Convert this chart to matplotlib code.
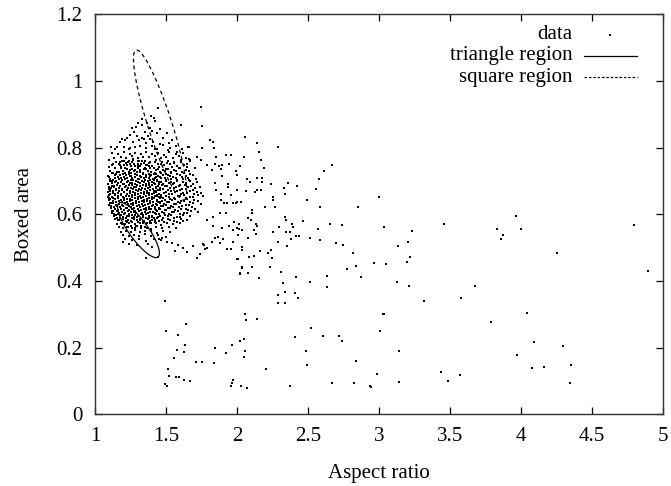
import numpy as np
import matplotlib.pyplot as plt

plt.rcParams['font.family'] = ['Liberation Serif', 'DejaVu Serif']

# dense core of the cloud
core_pts = [
    (1.222, 0.737), (1.243, 0.733), (1.259, 0.736), (1.281, 0.732), (1.302, 0.738), (1.318, 0.734),
    (1.195, 0.729), (1.214, 0.725), (1.236, 0.728), (1.255, 0.724), (1.277, 0.730), (1.296, 0.726),
    (1.318, 0.727), (1.341, 0.723),
    (1.176, 0.717), (1.197, 0.721), (1.215, 0.718), (1.238, 0.722), (1.256, 0.716), (1.279, 0.720),
    (1.297, 0.719), (1.318, 0.715), (1.337, 0.721), (1.360, 0.718),
    (1.162, 0.713), (1.181, 0.709), (1.203, 0.712), (1.222, 0.708), (1.243, 0.714), (1.261, 0.710),
    (1.284, 0.711), (1.301, 0.707), (1.323, 0.713), (1.342, 0.709), (1.361, 0.712), (1.379, 0.710),
    (1.151, 0.701), (1.172, 0.705), (1.190, 0.702), (1.211, 0.706), (1.232, 0.700), (1.250, 0.704),
    (1.271, 0.703), (1.292, 0.699), (1.310, 0.705), (1.331, 0.701), (1.350, 0.704), (1.372, 0.700),
    (1.389, 0.703),
    (1.142, 0.697), (1.163, 0.693), (1.181, 0.696), (1.204, 0.692), (1.222, 0.698), (1.243, 0.694),
    (1.261, 0.695), (1.283, 0.691), (1.302, 0.697), (1.320, 0.693), (1.343, 0.696), (1.361, 0.692),
    (1.382, 0.694), (1.398, 0.697),
    (1.136, 0.685), (1.157, 0.689), (1.176, 0.686), (1.197, 0.690), (1.217, 0.684), (1.236, 0.688),
    (1.257, 0.687), (1.277, 0.683), (1.296, 0.689), (1.318, 0.685), (1.337, 0.688), (1.358, 0.684),
    (1.378, 0.687), (1.403, 0.689),
    (1.131, 0.681), (1.150, 0.677), (1.172, 0.680), (1.190, 0.676), (1.211, 0.682), (1.229, 0.678),
    (1.251, 0.679), (1.270, 0.675), (1.291, 0.681), (1.309, 0.677), (1.331, 0.680), (1.349, 0.676),
    (1.370, 0.679), (1.389, 0.681), (1.410, 0.677),
    (1.127, 0.669), (1.146, 0.673), (1.166, 0.670), (1.187, 0.674), (1.206, 0.668), (1.227, 0.672),
    (1.246, 0.671), (1.266, 0.667), (1.287, 0.673), (1.306, 0.669), (1.327, 0.672), (1.346, 0.668),
    (1.367, 0.671), (1.386, 0.673), (1.412, 0.669),
    (1.124, 0.665), (1.143, 0.661), (1.163, 0.664), (1.182, 0.660), (1.203, 0.666), (1.222, 0.662),
    (1.243, 0.663), (1.262, 0.659), (1.283, 0.665), (1.302, 0.661), (1.323, 0.664), (1.342, 0.660),
    (1.363, 0.663), (1.382, 0.665), (1.401, 0.661), (1.416, 0.664),
    (1.121, 0.653), (1.141, 0.657), (1.160, 0.654), (1.181, 0.658), (1.200, 0.652), (1.221, 0.656),
    (1.240, 0.655), (1.261, 0.651), (1.280, 0.657), (1.301, 0.653), (1.320, 0.656), (1.341, 0.652),
    (1.360, 0.655), (1.381, 0.657), (1.400, 0.653), (1.419, 0.656),
    (1.125, 0.649), (1.144, 0.645), (1.164, 0.648), (1.183, 0.644), (1.204, 0.650), (1.223, 0.646),
    (1.244, 0.647), (1.263, 0.643), (1.284, 0.649), (1.303, 0.645), (1.324, 0.648), (1.343, 0.644),
    (1.364, 0.647), (1.383, 0.649), (1.402, 0.645), (1.415, 0.648),
    (1.128, 0.641), (1.147, 0.637), (1.167, 0.640), (1.188, 0.636), (1.207, 0.642), (1.228, 0.638),
    (1.247, 0.639), (1.267, 0.635), (1.288, 0.641), (1.307, 0.637), (1.328, 0.640), (1.347, 0.636),
    (1.368, 0.639), (1.387, 0.641), (1.411, 0.637),
    (1.130, 0.633), (1.151, 0.629), (1.171, 0.632), (1.191, 0.628), (1.210, 0.634), (1.230, 0.630),
    (1.252, 0.631), (1.271, 0.627), (1.290, 0.633), (1.310, 0.629), (1.330, 0.632), (1.350, 0.628),
    (1.371, 0.631), (1.390, 0.633), (1.409, 0.629),
    (1.137, 0.621), (1.156, 0.625), (1.177, 0.622), (1.196, 0.626), (1.218, 0.620), (1.237, 0.624),
    (1.256, 0.623), (1.278, 0.619), (1.297, 0.625), (1.317, 0.621), (1.338, 0.624), (1.357, 0.620),
    (1.379, 0.623), (1.402, 0.625),
    (1.143, 0.617), (1.162, 0.613), (1.182, 0.616), (1.203, 0.612), (1.223, 0.618), (1.242, 0.614),
    (1.262, 0.615), (1.282, 0.611), (1.303, 0.617), (1.321, 0.613), (1.342, 0.616), (1.362, 0.612),
    (1.381, 0.615), (1.397, 0.617),
    (1.152, 0.609), (1.171, 0.605), (1.191, 0.608), (1.212, 0.604), (1.231, 0.610), (1.251, 0.606),
    (1.272, 0.607), (1.291, 0.603), (1.311, 0.609), (1.330, 0.605), (1.351, 0.608), (1.371, 0.604),
    (1.388, 0.607),
    (1.163, 0.601), (1.182, 0.597), (1.202, 0.600), (1.223, 0.596), (1.242, 0.602), (1.262, 0.598),
    (1.283, 0.599), (1.302, 0.595), (1.322, 0.601), (1.341, 0.597), (1.362, 0.600), (1.378, 0.596),
    (1.177, 0.589), (1.196, 0.593), (1.216, 0.590), (1.237, 0.594), (1.257, 0.588), (1.278, 0.592),
    (1.298, 0.591), (1.317, 0.587), (1.338, 0.593), (1.362, 0.589),
    (1.196, 0.585), (1.215, 0.581), (1.235, 0.584), (1.256, 0.580), (1.276, 0.586), (1.297, 0.582),
    (1.318, 0.583), (1.342, 0.579),
    (1.223, 0.577), (1.242, 0.573), (1.262, 0.576), (1.281, 0.572), (1.302, 0.578), (1.317, 0.574),
]

# ring of points just outside the core
ring_pts = [
    (1.437, 0.657), (1.430, 0.669), (1.432, 0.680), (1.418, 0.694), (1.413, 0.703), (1.393, 0.717),
    (1.383, 0.722), (1.359, 0.735), (1.345, 0.737), (1.318, 0.746), (1.302, 0.745), (1.273, 0.750),
    (1.256, 0.746), (1.227, 0.748), (1.211, 0.740), (1.185, 0.738), (1.171, 0.727), (1.148, 0.722),
    (1.140, 0.708), (1.121, 0.701), (1.118, 0.685), (1.106, 0.676), (1.108, 0.660), (1.102, 0.650),
    (1.112, 0.634), (1.112, 0.625), (1.127, 0.609), (1.134, 0.602), (1.154, 0.588), (1.165, 0.583),
    (1.191, 0.572), (1.205, 0.570), (1.233, 0.562), (1.250, 0.564), (1.279, 0.560), (1.296, 0.565),
    (1.324, 0.564), (1.339, 0.573), (1.365, 0.575), (1.377, 0.588), (1.399, 0.593), (1.407, 0.607),
    (1.424, 0.615), (1.426, 0.631), (1.436, 0.640),
    (1.369, 0.559), (1.390, 0.574), (1.420, 0.583), (1.433, 0.602), (1.453, 0.616), (1.456, 0.638),
    (1.465, 0.653), (1.455, 0.676), (1.453, 0.690), (1.433, 0.712), (1.420, 0.723), (1.390, 0.740),
    (1.369, 0.747), (1.333, 0.759), (1.306, 0.760), (1.267, 0.766), (1.240, 0.760), (1.201, 0.759),
    (1.177, 0.747), (1.144, 0.740), (1.126, 0.723), (1.101, 0.712),
]

# looser halo around the core
halo_pts = [
    (1.118, 0.785), (1.165, 0.781), (1.205, 0.786), (1.248, 0.780), (1.279, 0.784), (1.322, 0.782),
    (1.356, 0.787), (1.398, 0.781), (1.441, 0.784), (1.483, 0.779), (1.522, 0.786), (1.572, 0.782),
    (1.618, 0.785),
    (1.132, 0.769), (1.182, 0.773), (1.221, 0.770), (1.262, 0.774), (1.301, 0.768), (1.338, 0.772),
    (1.377, 0.771), (1.419, 0.775), (1.462, 0.769), (1.502, 0.773), (1.547, 0.770), (1.591, 0.774),
    (1.642, 0.768),
    (1.102, 0.762), (1.148, 0.758), (1.193, 0.761), (1.232, 0.757), (1.271, 0.763), (1.309, 0.759),
    (1.351, 0.760), (1.388, 0.756), (1.429, 0.762), (1.470, 0.758), (1.511, 0.761), (1.559, 0.757),
    (1.603, 0.763), (1.668, 0.759),
    (1.123, 0.747), (1.166, 0.751), (1.205, 0.748), (1.245, 0.752), (1.283, 0.746), (1.321, 0.750),
    (1.362, 0.749), (1.401, 0.745), (1.443, 0.751), (1.489, 0.747), (1.531, 0.750), (1.578, 0.746),
    (1.628, 0.749),
    (1.098, 0.743), (1.141, 0.739), (1.185, 0.742), (1.352, 0.738), (1.379, 0.744), (1.415, 0.740),
    (1.452, 0.741), (1.497, 0.737), (1.544, 0.743), (1.596, 0.739), (1.651, 0.742), (1.702, 0.738),
    (1.108, 0.731), (1.152, 0.727), (1.372, 0.730), (1.396, 0.726), (1.428, 0.732), (1.461, 0.728),
    (1.492, 0.729), (1.533, 0.725), (1.571, 0.731), (1.612, 0.727), (1.663, 0.730),
    (1.094, 0.715), (1.138, 0.719), (1.389, 0.716), (1.415, 0.720), (1.447, 0.714), (1.478, 0.718),
    (1.516, 0.717), (1.552, 0.713), (1.597, 0.719), (1.641, 0.715), (1.688, 0.718),
    (1.103, 0.707), (1.128, 0.703), (1.408, 0.706), (1.435, 0.702), (1.466, 0.708), (1.503, 0.704),
    (1.538, 0.705), (1.574, 0.701), (1.622, 0.707), (1.661, 0.703), (1.713, 0.706),
    (1.091, 0.691), (1.119, 0.695), (1.421, 0.692), (1.452, 0.696), (1.481, 0.690), (1.519, 0.694),
    (1.557, 0.693), (1.601, 0.689), (1.644, 0.695), (1.692, 0.691),
    (1.099, 0.683), (1.112, 0.679), (1.428, 0.682), (1.459, 0.678), (1.492, 0.684), (1.531, 0.680),
    (1.568, 0.681), (1.611, 0.677), (1.652, 0.683), (1.704, 0.679), (1.741, 0.682),
    (1.093, 0.667), (1.108, 0.671), (1.432, 0.668), (1.461, 0.672), (1.497, 0.666), (1.538, 0.670),
    (1.579, 0.669), (1.622, 0.665), (1.668, 0.671), (1.721, 0.667),
    (1.102, 0.659), (1.438, 0.655), (1.467, 0.658), (1.503, 0.654), (1.541, 0.660), (1.583, 0.656),
    (1.628, 0.657), (1.672, 0.653), (1.727, 0.659), (1.762, 0.655),
    (1.097, 0.643), (1.109, 0.647), (1.434, 0.644), (1.459, 0.648), (1.491, 0.642), (1.528, 0.646),
    (1.566, 0.645), (1.608, 0.641), (1.651, 0.647), (1.699, 0.643),
    (1.104, 0.635), (1.428, 0.631), (1.455, 0.634), (1.487, 0.630), (1.521, 0.636), (1.559, 0.632),
    (1.602, 0.633), (1.643, 0.629), (1.691, 0.635), (1.748, 0.631),
    (1.112, 0.619), (1.421, 0.623), (1.449, 0.620), (1.478, 0.624), (1.512, 0.618), (1.551, 0.622),
    (1.592, 0.621), (1.638, 0.617), (1.682, 0.623),
    (1.121, 0.611), (1.408, 0.607), (1.437, 0.610), (1.469, 0.606), (1.502, 0.612), (1.541, 0.608),
    (1.583, 0.609), (1.627, 0.605), (1.675, 0.611), (1.722, 0.607),
    (1.132, 0.595), (1.149, 0.599), (1.398, 0.596), (1.427, 0.600), (1.458, 0.594), (1.493, 0.598),
    (1.532, 0.597), (1.574, 0.593), (1.619, 0.599), (1.668, 0.595),
    (1.141, 0.587), (1.168, 0.583), (1.371, 0.586), (1.403, 0.582), (1.437, 0.588), (1.472, 0.584),
    (1.511, 0.585), (1.557, 0.581), (1.603, 0.587), (1.651, 0.583),
    (1.152, 0.571), (1.183, 0.575), (1.208, 0.572), (1.338, 0.576), (1.362, 0.570), (1.395, 0.574),
    (1.428, 0.573), (1.466, 0.569), (1.507, 0.575), (1.552, 0.571), (1.598, 0.574),
    (1.168, 0.563), (1.197, 0.559), (1.228, 0.562), (1.259, 0.558), (1.291, 0.564), (1.322, 0.560),
    (1.355, 0.561), (1.391, 0.557), (1.429, 0.563), (1.471, 0.559), (1.518, 0.562), (1.567, 0.558),
    (1.181, 0.547), (1.216, 0.551), (1.252, 0.548), (1.284, 0.552), (1.319, 0.546), (1.352, 0.550),
    (1.393, 0.549), (1.438, 0.545), (1.482, 0.551), (1.531, 0.547),
    (1.198, 0.539), (1.239, 0.535), (1.276, 0.538), (1.312, 0.534), (1.351, 0.540), (1.392, 0.536),
    (1.447, 0.537), (1.501, 0.533),
    (1.214, 0.526), (1.262, 0.522), (1.307, 0.525), (1.356, 0.521), (1.412, 0.527), (1.468, 0.523),
    (1.241, 0.511), (1.298, 0.507), (1.372, 0.510),
    (1.199, 0.518), (1.359, 0.470), (1.399, 0.501), (1.453, 0.525), (1.505, 0.518), (1.587, 0.508),
    (1.646, 0.488), (1.716, 0.468), (1.768, 0.508), (1.787, 0.498), (1.470, 0.530), (1.540, 0.515),
    (1.620, 0.500), (1.560, 0.490), (1.690, 0.505), (1.740, 0.480),
]

# in-between points of the halo, mostly on its right flank
mid_pts = [
    (1.445, 0.737), (1.478, 0.733), (1.515, 0.736), (1.553, 0.734), (1.592, 0.738), (1.638, 0.733),
    (1.432, 0.721), (1.462, 0.725), (1.497, 0.722), (1.536, 0.726), (1.578, 0.721), (1.625, 0.724),
    (1.672, 0.722),
    (1.425, 0.709), (1.458, 0.713), (1.492, 0.710), (1.530, 0.714), (1.568, 0.709), (1.610, 0.712),
    (1.652, 0.710),
    (1.437, 0.701), (1.468, 0.697), (1.502, 0.700), (1.538, 0.696), (1.579, 0.702), (1.623, 0.698),
    (1.669, 0.699), (1.718, 0.697),
    (1.443, 0.685), (1.474, 0.689), (1.508, 0.686), (1.547, 0.690), (1.589, 0.685), (1.631, 0.688),
    (1.678, 0.686),
    (1.446, 0.673), (1.479, 0.677), (1.515, 0.674), (1.556, 0.678), (1.598, 0.673), (1.643, 0.676),
    (1.690, 0.674),
    (1.451, 0.661), (1.485, 0.665), (1.521, 0.662), (1.561, 0.666), (1.604, 0.661), (1.649, 0.664),
    (1.699, 0.662), (1.745, 0.665),
    (1.450, 0.653), (1.482, 0.649), (1.518, 0.652), (1.557, 0.648), (1.599, 0.654), (1.641, 0.650),
    (1.688, 0.651),
    (1.443, 0.637), (1.473, 0.641), (1.507, 0.638), (1.544, 0.642), (1.586, 0.637), (1.626, 0.640),
    (1.672, 0.638), (1.722, 0.641),
    (1.438, 0.629), (1.466, 0.625), (1.498, 0.628), (1.534, 0.624), (1.572, 0.630), (1.615, 0.626),
    (1.661, 0.627),
    (1.431, 0.613), (1.458, 0.617), (1.491, 0.614), (1.526, 0.618), (1.565, 0.613), (1.607, 0.616),
    (1.652, 0.614), (1.701, 0.617),
    (1.419, 0.605), (1.451, 0.601), (1.484, 0.604), (1.519, 0.600), (1.559, 0.606), (1.601, 0.602),
    (1.648, 0.603),
    (1.414, 0.589), (1.446, 0.593), (1.479, 0.590), (1.516, 0.594), (1.553, 0.589), (1.596, 0.592),
    (1.387, 0.581), (1.419, 0.577), (1.452, 0.580), (1.489, 0.576), (1.528, 0.582), (1.574, 0.578),
    (1.622, 0.579),
    (1.142, 0.797), (1.201, 0.803), (1.240, 0.795), (1.283, 0.801), (1.318, 0.806), (1.359, 0.798),
    (1.398, 0.804), (1.440, 0.796), (1.481, 0.807), (1.525, 0.799), (1.568, 0.804), (1.612, 0.797),
    (1.176, 0.816), (1.228, 0.828), (1.309, 0.822), (1.372, 0.836), (1.405, 0.818), (1.478, 0.829),
    (1.521, 0.815), (1.276, 0.846), (1.401, 0.851), (1.347, 0.827),
    (1.126, 0.752), (1.173, 0.756), (1.216, 0.753), (1.259, 0.757), (1.301, 0.752), (1.342, 0.755),
    (1.382, 0.753), (1.422, 0.757), (1.466, 0.752), (1.509, 0.755), (1.556, 0.753), (1.603, 0.756),
    (1.650, 0.752),
    (1.122, 0.723), (1.108, 0.699), (1.097, 0.675), (1.091, 0.651), (1.098, 0.627), (1.118, 0.603),
]

# sparse points above the cloud
upper_pts = [
    (1.446, 0.918), (1.329, 0.886), (1.392, 0.895), (1.415, 0.888), (1.423, 0.880), (1.305, 0.873),
    (1.364, 0.873), (1.333, 0.867), (1.258, 0.858), (1.289, 0.861), (1.387, 0.858), (1.458, 0.855),
    (1.604, 0.868), (1.352, 0.848), (1.435, 0.843), (1.505, 0.843), (1.246, 0.838), (1.294, 0.835),
    (1.329, 0.828), (1.387, 0.825), (1.540, 0.823), (1.211, 0.823), (1.188, 0.826), (1.270, 0.818),
    (1.359, 0.813), (1.458, 0.811), (1.657, 0.801), (1.153, 0.803), (1.113, 0.803), (1.246, 0.798),
    (1.423, 0.795), (1.516, 0.793), (1.575, 0.788), (1.669, 0.763), (1.716, 0.773),
    (1.744, 0.923), (1.754, 0.865), (2.056, 0.831), (2.143, 0.815), (2.289, 0.801), (1.810, 0.823),
    (1.829, 0.816), (1.754, 0.798), (1.840, 0.798), (1.662, 0.801), (1.850, 0.773), (1.664, 0.765),
    (1.746, 0.763), (1.787, 0.747),
]

# tail to the right of the cloud
tail_pts = [
    (2.153, 0.788), (2.167, 0.763), (2.188, 0.740), (2.667, 0.748), (2.611, 0.731), (2.577, 0.707),
    (2.556, 0.677), (2.495, 0.643), (2.582, 0.621), (3.002, 0.651), (2.852, 0.621), (2.361, 0.695),
    (2.420, 0.686), (2.333, 0.678), (2.336, 0.661), (2.239, 0.691), (2.178, 0.697), (2.254, 0.653),
    (2.265, 0.621), (2.251, 0.643), (2.199, 0.623), (2.463, 0.579), (2.655, 0.570), (2.739, 0.568),
    (2.573, 0.556), (2.336, 0.593), (2.345, 0.583), (2.385, 0.570), (2.397, 0.561), (2.373, 0.548),
    (2.345, 0.548), (2.413, 0.535), (2.434, 0.536), (2.296, 0.561), (2.251, 0.548), (2.288, 0.517),
    (2.350, 0.505), (2.380, 0.525), (2.512, 0.528), (2.582, 0.523), (2.699, 0.515), (2.749, 0.508),
    (2.817, 0.485), (2.773, 0.435), (2.836, 0.445), (2.871, 0.411), (2.963, 0.455), (2.632, 0.416),
    (2.413, 0.413), (2.312, 0.427), (2.235, 0.441), (2.153, 0.408), (2.108, 0.443), (2.075, 0.423),
    (2.023, 0.422), (2.033, 0.441), (1.998, 0.467), (2.082, 0.473), (2.122, 0.476), (2.164, 0.489),
    (2.237, 0.493), (2.246, 0.468), (2.216, 0.483), (2.033, 0.503), (2.035, 0.493), (2.075, 0.529),
    (1.956, 0.497), (1.927, 0.495), (1.772, 0.497), (1.763, 0.511), (1.826, 0.518), (1.880, 0.513),
    (1.899, 0.527), (1.970, 0.518), (2.005, 0.539), (2.016, 0.555), (2.104, 0.613), (2.108, 0.603),
    (2.075, 0.590), (2.096, 0.583), (2.131, 0.571), (2.143, 0.564), (2.120, 0.553), (2.037, 0.553),
    (2.002, 0.558), (1.972, 0.553), (1.941, 0.566), (1.977, 0.578), (2.016, 0.571), (2.134, 0.541),
    (2.068, 0.705), (2.092, 0.697), (2.141, 0.709), (2.174, 0.709), (2.125, 0.666), (2.169, 0.674),
    (2.139, 0.673), (2.063, 0.669), (1.998, 0.718), (1.995, 0.730), (2.047, 0.771), (2.021, 0.745),
    (1.956, 0.778), (1.920, 0.779), (1.894, 0.749), (1.946, 0.751), (1.939, 0.692), (1.939, 0.682),
    (1.998, 0.673), (1.958, 0.658), (1.998, 0.638), (2.026, 0.636), (1.892, 0.714), (1.887, 0.662),
    (1.908, 0.635), (1.847, 0.750), (1.875, 0.744), (1.824, 0.733), (1.847, 0.693), (1.852, 0.673),
    (1.885, 0.643), (1.927, 0.633), (1.970, 0.635), (1.993, 0.633), (1.833, 0.593), (1.880, 0.603),
    (1.925, 0.603), (1.787, 0.583), (1.833, 0.565), (1.892, 0.559), (1.868, 0.533), (1.845, 0.528),
    (1.852, 0.773), (1.885, 0.735), (2.005, 0.465), (2.033, 0.438), (2.021, 0.423),
]

# scattered points far to the right
far_pts = [
    (3.037, 0.561), (3.230, 0.550), (3.456, 0.570), (3.132, 0.505), (3.207, 0.517), (3.829, 0.556),
    (3.873, 0.538), (3.861, 0.527), (3.965, 0.596), (4.000, 0.556), (4.796, 0.568), (4.256, 0.484),
    (4.894, 0.430), (3.049, 0.452), (3.216, 0.471), (3.195, 0.458), (3.125, 0.396), (3.214, 0.384),
    (3.678, 0.384), (3.319, 0.341), (3.575, 0.348), (3.033, 0.301), (4.040, 0.304), (3.791, 0.278),
    (3.141, 0.191), (4.089, 0.217), (4.294, 0.206), (3.970, 0.177), (4.077, 0.140), (4.160, 0.142),
    (4.350, 0.148), (3.437, 0.127), (3.573, 0.119), (3.141, 0.098), (3.488, 0.099), (4.343, 0.095),
    (3.007, 0.251),
]

# low points under the cloud
low_pts = [
    (1.493, 0.341), (1.498, 0.249), (1.641, 0.270), (1.587, 0.239), (1.634, 0.209), (1.580, 0.193),
    (1.629, 0.186), (1.556, 0.170), (1.514, 0.136), (1.521, 0.115), (1.570, 0.112), (1.592, 0.113),
    (1.629, 0.103), (1.669, 0.101), (1.493, 0.092), (1.507, 0.084), (1.711, 0.158), (1.751, 0.156),
    (1.838, 0.153), (1.843, 0.200), (1.923, 0.183), (1.967, 0.207), (2.021, 0.220), (2.047, 0.227),
    (2.056, 0.301), (2.061, 0.282), (2.056, 0.191), (2.049, 0.173), (2.139, 0.287), (1.960, 0.085),
    (1.974, 0.103), (1.967, 0.093), (2.031, 0.085), (2.068, 0.080), (2.202, 0.135), (2.289, 0.357),
    (2.289, 0.334), (2.338, 0.334), (2.322, 0.393), (2.340, 0.368), (2.408, 0.365), (2.430, 0.350),
    (2.512, 0.398), (2.632, 0.382), (2.408, 0.233), (2.519, 0.260), (2.486, 0.190), (2.491, 0.147),
    (2.373, 0.085), (2.608, 0.236), (2.716, 0.236), (2.739, 0.220), (2.838, 0.161), (2.671, 0.094),
    (2.822, 0.094), (2.937, 0.085), (2.944, 0.083), (2.988, 0.120), (3.030, 0.301),
]

# fitted regions: centre, half major axis, half minor axis
tri_center = (1.306, 0.553)
tri_major = (0.1373, -0.0810)
tri_minor = (0.0542, 0.0167)
sq_center = (1.458, 0.868)
sq_major = (0.169, -0.2249)
sq_minor = (0.0806, 0.0110)

pts = np.array(core_pts + ring_pts + halo_pts + mid_pts + upper_pts
               + tail_pts + far_pts + low_pts)


def ellipse_outline(c, a, b, n=200):
    t = np.linspace(0, 2 * np.pi, n)
    x = c[0] + a[0] * np.cos(t) + b[0] * np.sin(t)
    y = c[1] + a[1] * np.cos(t) + b[1] * np.sin(t)
    return x, y


fig = plt.figure(figsize=(6.71, 4.86), dpi=100)
ax = fig.add_axes([0.1416, 0.1473, 0.8465, 0.8231])

ax.plot(pts[:, 0], pts[:, 1], linestyle='none', marker='s', markersize=1.9,
        markeredgewidth=0, color='black')

tx, ty = ellipse_outline(tri_center, tri_major, tri_minor)
ax.plot(tx, ty, color='black', lw=0.9)
sx, sy = ellipse_outline(sq_center, sq_major, sq_minor)
ax.plot(sx, sy, color='black', lw=0.9, dashes=(3, 2.5))

ax.set_xlim(1, 5)
ax.set_ylim(0, 1.2)
ax.set_xticks(np.arange(1, 5.01, 0.5))
ax.set_yticks(np.arange(0, 1.21, 0.2))
ax.set_xticklabels(['1', '1.5', '2', '2.5', '3', '3.5', '4', '4.5', '5'])
ax.set_yticklabels(['0', '0.2', '0.4', '0.6', '0.8', '1', '1.2'])
ax.tick_params(direction='in', length=5, width=0.9, top=True, right=True,
               labelsize=15, colors='black')
ax.tick_params(axis='x', pad=9)
ax.tick_params(axis='y', pad=9)
for s in ax.spines.values():
    s.set_linewidth(1.0)
    s.set_color('#333333')

ax.set_xlabel('Aspect ratio', fontsize=15, labelpad=13)
ax.set_ylabel('Boxed area', fontsize=15, labelpad=16)

# key in the upper right corner
tr = ax.transAxes
ax.text(0.840, 0.949, 'data', transform=tr, ha='right', va='center', fontsize=15)
ax.plot([0.907], [0.949], transform=tr, marker='s', markersize=1.9, mew=0, color='black')
ax.text(0.840, 0.897, 'triangle region', transform=tr, ha='right', va='center', fontsize=15)
ax.plot([0.861, 0.954], [0.897, 0.897], transform=tr, color='black', lw=0.9)
ax.text(0.840, 0.843, 'square region', transform=tr, ha='right', va='center', fontsize=15)
ax.plot([0.861, 0.954], [0.843, 0.843], transform=tr, color='black', lw=0.9, dashes=(2, 1.5))

fig.savefig('out.png', dpi=100)
